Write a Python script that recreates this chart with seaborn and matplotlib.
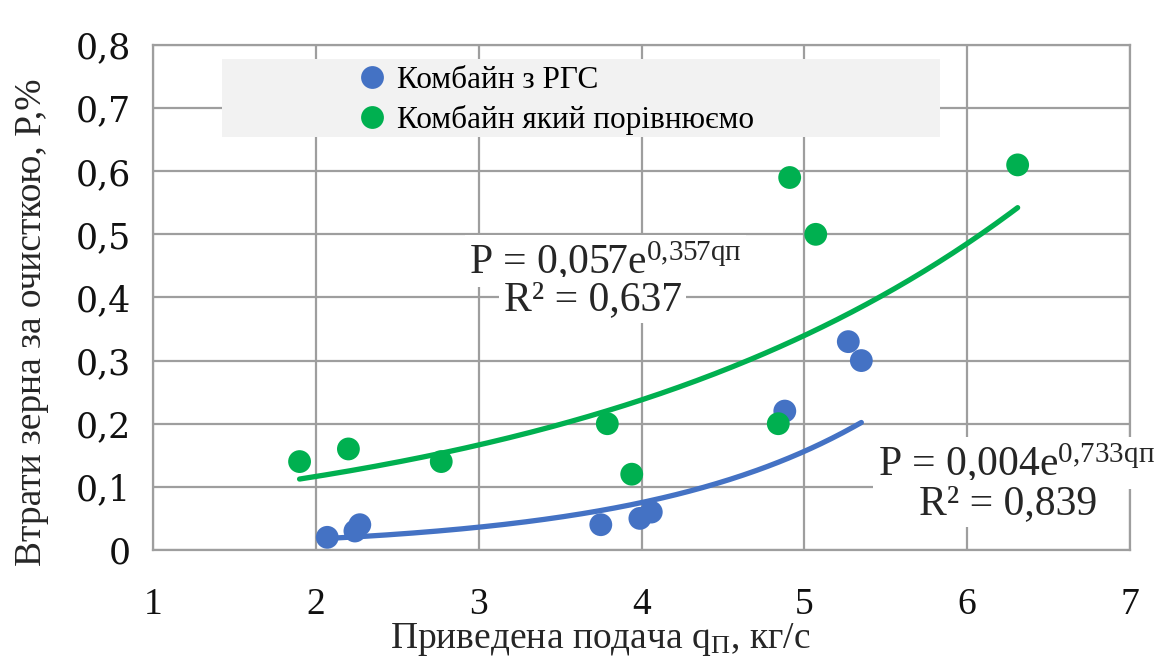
import numpy as np
import pandas as pd
import matplotlib
matplotlib.use("Agg")
import matplotlib.pyplot as plt
import seaborn as sns
from matplotlib.patches import Rectangle

# Measured grain losses for the two combines
rgs_q = [2.07, 2.24, 2.27, 3.75, 3.99, 4.06, 4.88, 5.27, 5.35]
rgs_p = [0.02, 0.03, 0.04, 0.04, 0.05, 0.06, 0.22, 0.33, 0.30]
cmp_q = [1.90, 2.20, 2.77, 3.79, 3.94, 4.84, 4.91, 5.07, 6.31]
cmp_p = [0.14, 0.16, 0.14, 0.20, 0.12, 0.20, 0.59, 0.50, 0.61]

# Exponential trend coefficients P = a * exp(b * q)
rgs_a, rgs_b, rgs_r2 = 0.004, 0.733, 0.839
cmp_a, cmp_b, cmp_r2 = 0.057, 0.357, 0.637

series_names = ["Комбайн з РГС", "Комбайн який порівнюємо"]
x_ticks = [1, 2, 3, 4, 5, 6, 7]
y_ticks = [0, 0.1, 0.2, 0.3, 0.4, 0.5, 0.6, 0.7, 0.8]

BLUE = "#4472C4"
GREEN = "#00B050"
GRID = "#9E9E9E"

sns.set_style("white")
plt.rcParams["font.family"] = ["Liberation Serif", "DejaVu Serif"]
plt.rcParams["mathtext.fontset"] = "custom"
plt.rcParams["mathtext.rm"] = "Liberation Serif"
plt.rcParams["mathtext.it"] = "Liberation Serif:italic"

fig = plt.figure(figsize=(11.54, 6.61), dpi=100)
ax = fig.add_axes([0.1326, 0.168, 0.8466, 0.764])

points = pd.concat([
    pd.DataFrame({"q": rgs_q, "p": rgs_p, "series": series_names[0]}),
    pd.DataFrame({"q": cmp_q, "p": cmp_p, "series": series_names[1]}),
], ignore_index=True)

# Trend curves over the range of each data set
def trend(qs, a, b, name):
    xs = np.linspace(min(qs), max(qs), 200)
    return pd.DataFrame({"q": xs, "p": a * np.exp(b * xs), "series": name})

curves = pd.concat([
    trend(rgs_q, rgs_a, rgs_b, series_names[0]),
    trend(cmp_q, cmp_a, cmp_b, series_names[1]),
], ignore_index=True)

palette = {series_names[0]: BLUE, series_names[1]: GREEN}

sns.lineplot(data=curves, x="q", y="p", hue="series", palette=palette,
             linewidth=3.8, legend=False, ax=ax, zorder=3,
             solid_capstyle="round")
sns.scatterplot(data=points, x="q", y="p", hue="series", palette=palette,
                s=270, edgecolor="none", ax=ax, zorder=4)

ax.set_xlim(1, 7)
ax.set_ylim(0, 0.8)
ax.set_xticks(x_ticks)
ax.set_yticks(y_ticks)
ax.set_xticklabels([str(v) for v in x_ticks], fontsize=27)
ax.set_yticklabels(["0" if v == 0 else f"{v:.1f}".replace(".", ",") for v in y_ticks],
                   fontsize=25, family="DejaVu Serif")
ax.tick_params(axis="both", length=0, colors="#111111")
ax.tick_params(axis="x", pad=27)
ax.tick_params(axis="y", pad=16)
ax.grid(True, color=GRID, linewidth=1.6)
ax.set_axisbelow(True)
for sp in ax.spines.values():
    sp.set_color(GRID)
    sp.set_linewidth(1.6)

ax.set_xlabel(r"Приведена подача q$_{\mathrm{П}}$, кг/с", fontsize=27)
ax.xaxis.set_label_coords(0.4575, -0.178)
ax.xaxis.label.set_va("center")
ax.set_ylabel("Втрати зерна за очисткою, P,%", fontsize=27)
ax.yaxis.set_label_coords(-0.124, 0.45)
ax.yaxis.label.set_va("center")

# Legend with a wide light panel behind it
ax.add_patch(Rectangle((0.0706, 0.8175), 0.735, 0.155, transform=ax.transAxes,
                       facecolor="#F2F2F2", edgecolor="none", zorder=5))
handles, labels = ax.get_legend_handles_labels()
leg = ax.legend(handles, labels, loc="upper left", bbox_to_anchor=(0.179, 0.983),
                frameon=False, fontsize=22.5, handletextpad=-0.2,
                labelspacing=0.32, markerscale=1.0, borderaxespad=0)
for t in leg.get_texts():
    t.set_color("black")
leg.set_zorder(6)

# Trend equations
box = dict(boxstyle="square,pad=0.1", facecolor="white", edgecolor="none")
ax.text(3.78, 0.458,
        r"P = 0,057e$^{\mathrm{0{,}357qп}}$", fontsize=30,
        ha="center", va="center", bbox=box, zorder=5)
ax.text(3.70, 0.396, r"R² = 0,637", fontsize=30,
        ha="center", va="center", bbox=box, zorder=5)
ax.text(6.30, 0.137,
        r"P = 0,004e$^{\mathrm{0{,}733qп}}$", fontsize=30,
        ha="center", va="center", bbox=box, zorder=5)
ax.text(6.25, 0.073, r"R² = 0,839", fontsize=30,
        ha="center", va="center", bbox=box, zorder=5)

fig.savefig("out.png", dpi=100)
